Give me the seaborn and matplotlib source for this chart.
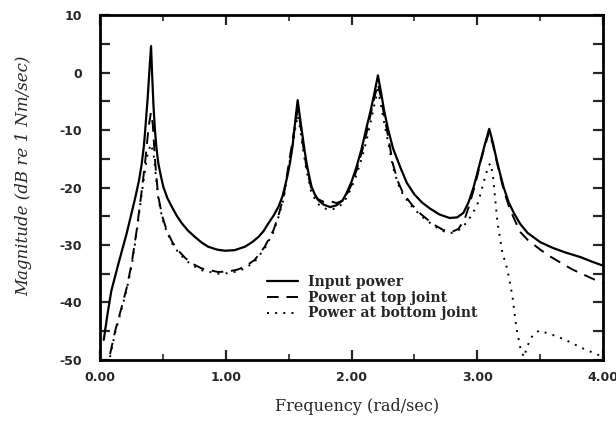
import numpy as np
import pandas as pd
import matplotlib
matplotlib.use("Agg")
import matplotlib.pyplot as plt
from matplotlib.ticker import MultipleLocator, FuncFormatter
import seaborn as sns

# Input power (dB re 1 Nm/sec) vs frequency (rad/sec)
input_freq = [0.03, 0.06, 0.09, 0.146, 0.212, 0.278, 0.31, 0.331, 0.348, 0.358,
              0.37, 0.379, 0.392, 0.406, 0.416, 0.426, 0.437, 0.45, 0.464, 0.484,
              0.504, 0.535, 0.57, 0.61, 0.65, 0.70, 0.755, 0.81, 0.86, 0.93,
              0.994, 1.07, 1.153, 1.21, 1.26, 1.30, 1.34, 1.38, 1.42, 1.45,
              1.47, 1.49, 1.51, 1.53, 1.545, 1.56, 1.572, 1.585, 1.604, 1.625,
              1.643, 1.663, 1.683, 1.71, 1.736, 1.78, 1.83, 1.88, 1.93, 1.96,
              2.00, 2.04, 2.08, 2.12, 2.15, 2.18, 2.21, 2.235, 2.26, 2.29,
              2.33, 2.39, 2.44, 2.50, 2.56, 2.62, 2.70, 2.78, 2.84, 2.89,
              2.93, 2.97, 3.00, 3.03, 3.06, 3.095, 3.125, 3.15, 3.18, 3.21,
              3.25, 3.29, 3.34, 3.40, 3.50, 3.60, 3.70, 3.82, 3.90, 4.00]
input_mag = [-46.5, -42.0, -38.0, -33.3, -28.0, -22.0, -18.8, -16.0, -13.0, -10.5,
             -7.0, -4.5, 0.0, 4.6, -1.0, -6.0, -10.0, -13.3, -15.8, -18.0,
             -19.9, -21.8, -23.3, -24.9, -26.2, -27.5, -28.6, -29.6, -30.3, -30.8,
             -31.0, -30.9, -30.3, -29.5, -28.6, -27.6, -26.2, -24.9, -23.3, -21.6,
             -19.9, -18.0, -15.8, -13.0, -10.0, -7.0, -4.8, -7.0, -10.0, -13.3,
             -15.8, -18.0, -19.9, -21.3, -22.2, -23.0, -23.4, -23.1, -22.2, -21.0,
             -19.0, -16.4, -13.3, -9.5, -6.8, -3.8, -0.5, -3.5, -6.7, -9.8,
             -13.2, -16.6, -19.2, -21.2, -22.6, -23.6, -24.7, -25.3, -25.2, -24.4,
             -22.6, -20.0, -17.5, -15.0, -12.5, -9.8, -12.3, -14.8, -17.5, -20.0,
             -22.6, -24.4, -26.3, -27.9, -29.5, -30.5, -31.3, -32.1, -32.8, -33.6]

# Power at top joint
top_freq = [0.08, 0.12, 0.17, 0.212, 0.252, 0.292, 0.326, 0.358, 0.375, 0.39,
            0.405, 0.42, 0.437, 0.45, 0.464, 0.495, 0.53, 0.575, 0.62, 0.675,
            0.73, 0.81, 0.94, 1.02, 1.09, 1.15, 1.23, 1.31, 1.38, 1.42,
            1.46, 1.50, 1.53, 1.555, 1.572, 1.59, 1.61, 1.64, 1.68, 1.73,
            1.78, 1.83, 1.88, 1.93, 1.96, 2.00, 2.04, 2.08, 2.12, 2.15,
            2.18, 2.21, 2.235, 2.26, 2.29, 2.33, 2.37, 2.41, 2.48, 2.55,
            2.65, 2.73, 2.80, 2.85, 2.90, 2.93, 2.97, 3.00, 3.03, 3.06,
            3.095, 3.125, 3.15, 3.18, 3.21, 3.25, 3.29, 3.34, 3.40, 3.50,
            3.58, 3.68, 3.76, 3.86, 3.95, 4.00]
top_mag = [-49.0, -45.0, -41.0, -37.5, -33.2, -27.4, -21.6, -15.8, -12.0, -9.0,
           -7.0, -9.0, -15.0, -18.5, -21.6, -25.0, -27.4, -29.5, -30.9, -32.2,
           -33.2, -34.1, -34.7, -34.6, -34.3, -33.8, -32.6, -30.3, -27.4, -24.8,
           -21.6, -16.0, -12.0, -8.5, -6.5, -8.5, -12.0, -16.2, -20.2, -22.0,
           -22.5, -22.4, -22.7, -22.3, -21.3, -19.5, -17.0, -14.0, -10.5, -7.5,
           -4.5, -2.0, -4.5, -7.5, -11.0, -16.0, -19.0, -21.0, -23.0, -24.6,
           -26.4, -27.4, -27.7, -27.2, -25.5, -23.5, -20.5, -18.0, -15.2, -12.8,
           -10.3, -12.6, -15.1, -17.8, -20.4, -23.2, -25.3, -27.7, -29.1, -30.8,
           -32.0, -33.3, -34.3, -35.3, -36.2, -36.6]

# Power at bottom joint
bottom_freq = [0.08, 0.12, 0.17, 0.212, 0.252, 0.292, 0.326, 0.358, 0.38, 0.405,
               0.425, 0.44, 0.464, 0.495, 0.53, 0.575, 0.62, 0.675, 0.73, 0.81,
               0.94, 1.02, 1.09, 1.15, 1.23, 1.31, 1.38, 1.42, 1.46, 1.50,
               1.53, 1.555, 1.572, 1.59, 1.61, 1.64, 1.68, 1.73, 1.78, 1.83,
               1.88, 1.93, 1.96, 2.00, 2.04, 2.08, 2.12, 2.15, 2.18, 2.21,
               2.235, 2.26, 2.29, 2.33, 2.37, 2.41, 2.48, 2.55, 2.65, 2.73,
               2.80, 2.86, 2.92, 2.97, 3.00, 3.03, 3.06, 3.09, 3.105, 3.125,
               3.14, 3.16, 3.20, 3.24, 3.28, 3.31, 3.34, 3.37, 3.40, 3.44,
               3.49, 3.55, 3.62, 3.70, 3.83, 3.96, 4.00]
bottom_mag = [-49.5, -45.3, -41.3, -37.8, -33.6, -27.8, -22.0, -17.0, -14.0, -12.5,
              -14.0, -17.0, -22.0, -25.3, -27.7, -29.8, -31.2, -32.5, -33.5, -34.4,
              -35.0, -34.9, -34.6, -34.1, -32.9, -30.6, -27.7, -25.1, -22.0, -16.5,
              -12.8, -9.5, -7.5, -9.5, -12.8, -16.8, -20.8, -22.8, -23.6, -23.9,
              -23.6, -22.8, -21.8, -20.0, -17.8, -15.0, -11.8, -8.8, -5.8, -3.0,
              -5.8, -8.8, -12.0, -16.5, -19.4, -21.3, -23.3, -24.9, -26.6, -27.6,
              -27.9, -27.3, -26.0, -24.2, -23.0, -20.8, -18.3, -16.2, -15.8, -18.0,
              -21.5, -26.0, -31.4, -34.3, -39.0, -44.3, -47.7, -49.5, -47.5, -45.7,
              -44.9, -45.3, -45.8, -46.5, -47.9, -49.1, -49.5]

sns.set_style("white")
plt.rcParams["font.family"] = ["DejaVu Sans"]

fig = plt.figure(figsize=(6.16, 4.26), dpi=100)
ax = fig.add_axes([0.1623, 0.155, 0.8167, 0.8097])

series = [
    ("Input power", input_freq, input_mag, "-", 1.6),
    ("Power at top joint", top_freq, top_mag, (0, (6, 4)), 1.4),
    ("Power at bottom joint", bottom_freq, bottom_mag, (0, (1, 3.2)), 1.4),
]
for name, fx, my, ls, lw in series:
    df = pd.DataFrame({"freq": fx, "mag": my})
    sns.lineplot(data=df, x="freq", y="mag", ax=ax, color="black",
                 linestyle=ls, linewidth=lw, label=name, sort=False)

ax.set_xlim(0, 4)
ax.set_ylim(-50, 10)
ax.xaxis.set_major_locator(MultipleLocator(1))
ax.xaxis.set_minor_locator(MultipleLocator(0.5))
ax.yaxis.set_major_locator(MultipleLocator(10))
ax.yaxis.set_minor_locator(MultipleLocator(5))
ax.xaxis.set_major_formatter(FuncFormatter(lambda v, p: f"{v:.2f}"))
ax.yaxis.set_major_formatter(FuncFormatter(lambda v, p: f"{int(v)}"))
ax.tick_params(which="major", direction="in", length=7, width=1.6,
               top=True, right=True, left=True, bottom=True, labelsize=9)
ax.tick_params(axis="x", which="major", pad=8)
ax.tick_params(axis="y", which="major", pad=13)
ax.tick_params(which="minor", direction="in", length=4, width=1.2,
               top=True, right=True, left=True, bottom=True)
ax.tick_params(axis="y", which="minor", length=7, width=1.6)
for lab in ax.get_xticklabels() + ax.get_yticklabels():
    lab.set_fontweight("bold")

for sp in ax.spines.values():
    sp.set_linewidth(2.0)
    sp.set_color("black")

ax.set_xlabel("Frequency (rad/sec)", family=["DejaVu Serif"], fontsize=11.5)
ax.xaxis.set_label_coords(0.511, -0.11)
ax.set_ylabel("Magnitude (dB re 1 Nm/sec)", family=["DejaVu Serif"],
              style="italic", fontsize=12)
ax.yaxis.set_label_coords(-0.135, 0.535)

leg = ax.legend(loc="upper left", bbox_to_anchor=(0.321, 0.262), frameon=False,
                prop={"family": "DejaVu Serif", "weight": "bold", "size": 10},
                handlelength=2.25, labelspacing=0.12, handletextpad=0.7,
                borderaxespad=0)

fig.savefig("out.png", dpi=100)
